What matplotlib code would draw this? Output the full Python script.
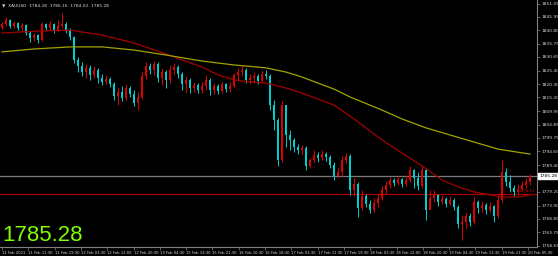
import numpy as np
import matplotlib
matplotlib.use('Agg')
import matplotlib.pyplot as plt
from matplotlib.patches import Rectangle
import matplotlib.transforms as mtransforms

# XAUUSD M30 candles
first_open = 1841.7
close = [1843.2, 1844.8, 1842.5, 1843.6, 1841.7, 1842.9, 1839.8, 1837.9, 1839.0, 1837.1,
         1843.2, 1841.7, 1843.2, 1840.6, 1842.5, 1843.2, 1840.9, 1838.3, 1829.5, 1827.2,
         1824.9, 1826.5, 1823.8, 1825.7, 1822.6, 1821.1, 1822.3, 1820.4, 1815.8, 1817.3,
         1815.0, 1818.8, 1816.5, 1813.1, 1815.4, 1823.4, 1827.2, 1825.7, 1828.0, 1822.6,
         1824.9, 1821.9, 1825.7, 1826.8, 1824.2, 1820.4, 1821.9, 1818.8, 1820.0, 1818.1,
         1819.6, 1821.9, 1818.1, 1819.6, 1817.7, 1820.4, 1818.4, 1819.6, 1823.8, 1824.9,
         1825.7, 1821.9, 1822.6, 1823.4, 1821.5, 1824.2, 1823.4, 1812.3, 1806.6, 1791.4,
         1812.3, 1800.9, 1799.0, 1796.3, 1795.2, 1795.9, 1789.1, 1791.4, 1793.3, 1792.1,
         1793.6, 1792.5, 1789.4, 1785.3, 1786.8, 1791.4, 1792.9, 1779.9, 1782.2, 1773.0,
         1777.6, 1774.6, 1772.3, 1774.9, 1776.9, 1779.9, 1781.8, 1783.7, 1782.6, 1784.1,
         1782.2, 1783.7, 1787.5, 1784.5, 1781.4, 1787.5, 1772.3, 1776.9, 1778.0, 1775.3,
         1776.5, 1774.6, 1776.1, 1773.4, 1766.9, 1767.7, 1770.0, 1767.7, 1775.3, 1773.0,
         1774.2, 1772.3, 1773.8, 1770.0, 1776.1, 1786.8, 1783.0, 1780.7, 1779.2, 1780.3,
         1781.8, 1783.0, 1785.28]
high = [1844.0, 1845.9, 1845.2, 1844.4, 1844.0, 1843.6, 1843.2, 1840.6, 1839.8, 1839.4,
        1844.0, 1843.6, 1844.4, 1843.6, 1844.8, 1847.4, 1844.0, 1841.7, 1838.7, 1830.6,
        1828.7, 1828.0, 1827.6, 1827.2, 1826.5, 1824.2, 1823.8, 1823.0, 1821.1, 1818.8,
        1819.6, 1820.4, 1819.6, 1818.1, 1817.3, 1824.9, 1828.7, 1828.4, 1829.1, 1828.7,
        1826.5, 1825.7, 1827.6, 1828.4, 1827.6, 1824.9, 1823.4, 1822.6, 1821.1, 1820.7,
        1821.1, 1823.8, 1822.6, 1820.7, 1820.4, 1821.1, 1820.7, 1821.1, 1824.5, 1826.5,
        1827.2, 1826.5, 1824.2, 1824.9, 1824.2, 1825.7, 1825.7, 1824.2, 1814.3, 1807.4,
        1813.9, 1810.4, 1802.8, 1799.8, 1797.5, 1797.1, 1796.7, 1792.1, 1795.2, 1794.4,
        1795.2, 1794.4, 1793.3, 1790.6, 1788.3, 1792.9, 1794.0, 1793.6, 1784.5, 1783.0,
        1779.9, 1778.4, 1776.1, 1776.9, 1778.4, 1781.4, 1783.3, 1784.9, 1784.5, 1785.3,
        1784.5, 1785.6, 1789.1, 1787.9, 1786.8, 1789.4, 1788.3, 1779.9, 1779.9, 1778.4,
        1778.0, 1777.2, 1777.6, 1776.9, 1774.2, 1770.4, 1771.5, 1771.1, 1777.2, 1776.1,
        1775.7, 1774.9, 1775.3, 1774.2, 1778.0, 1791.4, 1788.3, 1785.6, 1781.8, 1782.2,
        1783.3, 1784.5, 1786.0]
low = [1841.3, 1842.5, 1841.7, 1841.7, 1840.9, 1840.6, 1839.0, 1836.4, 1836.8, 1836.0,
       1836.8, 1840.9, 1840.9, 1839.8, 1840.2, 1841.7, 1839.8, 1837.1, 1828.4, 1824.9,
       1823.4, 1822.6, 1821.9, 1822.6, 1820.7, 1820.0, 1820.4, 1819.2, 1814.3, 1812.3,
       1813.9, 1814.3, 1815.4, 1812.0, 1810.4, 1814.6, 1822.3, 1824.2, 1823.8, 1821.1,
       1820.0, 1818.8, 1820.7, 1824.2, 1822.6, 1818.1, 1817.3, 1816.9, 1817.3, 1816.9,
       1816.9, 1818.1, 1816.2, 1816.5, 1816.5, 1816.9, 1817.3, 1817.3, 1818.8, 1821.9,
       1823.4, 1820.7, 1820.4, 1821.1, 1820.4, 1820.7, 1822.3, 1810.4, 1802.8, 1789.1,
       1790.6, 1796.3, 1795.2, 1794.4, 1793.6, 1793.3, 1787.5, 1788.3, 1790.2, 1790.6,
       1791.4, 1791.0, 1788.3, 1783.7, 1784.5, 1785.3, 1790.2, 1778.0, 1777.6, 1769.6,
       1772.3, 1773.4, 1771.1, 1771.5, 1773.4, 1776.1, 1778.4, 1780.7, 1781.4, 1781.8,
       1781.1, 1781.4, 1783.0, 1780.7, 1779.9, 1780.7, 1768.5, 1774.2, 1775.3, 1773.8,
       1774.6, 1773.4, 1774.2, 1772.3, 1765.4, 1760.8, 1765.4, 1766.2, 1766.9, 1771.1,
       1771.5, 1770.8, 1771.5, 1767.7, 1769.2, 1775.3, 1781.4, 1779.2, 1777.6, 1778.4,
       1779.5, 1780.7, 1781.8]

# moving averages (bar index, price)
ma_fast_idx = [0, 10, 17, 25, 33, 41, 50, 54, 58, 62, 66, 71, 75, 83, 87, 91, 95, 100,
               105, 110, 114, 118, 122, 126, 129, 132]
ma_fast = [1839.8, 1840.6, 1840.9, 1839.0, 1836.0, 1831.8, 1826.8, 1823.8, 1821.9, 1821.1,
           1820.7, 1818.8, 1816.9, 1812.3, 1808.1, 1803.6, 1799.0, 1794.0, 1789.1, 1783.7,
           1781.1, 1779.2, 1778.0, 1777.2, 1777.2, 1778.0]
ma_slow_idx = [0, 8, 17, 25, 33, 41, 50, 58, 66, 71, 75, 83, 87, 95, 100, 106, 112, 118,
               124, 132]
ma_slow = [1832.6, 1833.7, 1834.5, 1834.5, 1833.3, 1831.4, 1829.1, 1827.6, 1826.5, 1824.9,
           1823.0, 1818.4, 1815.4, 1810.4, 1807.0, 1803.6, 1800.9, 1798.2, 1795.5, 1793.6]

bid = 1785.28
level_line = 1778.52

price_ticks = [1758.65, 1763.75, 1768.85, 1773.90, 1779.20, 1784.30, 1789.40, 1794.65,
               1799.75, 1804.85, 1809.95, 1815.20, 1820.30, 1825.40, 1830.65, 1835.75,
               1840.80, 1845.95, 1851.05]
time_labels = ['11 Feb 2021', '11 Feb 11:30', '11 Feb 19:30', '12 Feb 03:30', '12 Feb 12:00',
               '12 Feb 20:30', '13 Feb 04:30', '15 Feb 13:30', '15 Feb 21:30', '16 Feb 10:30',
               '16 Feb 18:30', '17 Feb 03:30', '17 Feb 11:30', '17 Feb 19:30', '18 Feb 03:30',
               '18 Feb 12:00', '18 Feb 20:30', '19 Feb 04:30', '19 Feb 13:30', '19 Feb 21:30',
               '20 Feb 05:30']

BULL = '#e00000'
BEAR = '#00cfcf'
GRID = '#808080'
TXT = '#d8d8d8'

fig = plt.figure(figsize=(5.58, 2.59), dpi=100, facecolor='black')
ax = fig.add_axes([0.0, 12 / 259, 537 / 558, 247 / 259], facecolor='black')

c = np.array(close)
o = np.array([first_open] + close[:-1])
h = np.array(high)
l = np.array(low)
idx = np.arange(len(c))
cols = np.where(c >= o, BULL, BEAR)

ax.vlines(idx, l, h, colors=cols, linewidth=0.7, zorder=3)
body = np.maximum(np.abs(c - o), 0.25)
ax.bar(idx, body, bottom=np.minimum(o, c), width=0.5, color=cols, linewidth=0, zorder=3)

ax.plot(ma_fast_idx, ma_fast, color='#a30000', linewidth=0.9, zorder=4)
ax.plot(ma_slow_idx, ma_slow, color='#a3a300', linewidth=0.9, zorder=4)

ax.axhline(bid, color='#7a7a7a', linewidth=0.9, zorder=2)
ax.axhline(level_line, color='#a00000', linewidth=0.9, zorder=2)

ax.set_xlim(-0.5, 133.75)
ax.set_ylim(1758.15, 1852.39)

for s in ['left', 'top']:
    ax.spines[s].set_visible(False)
for s in ['right', 'bottom']:
    ax.spines[s].set_color(GRID)
    ax.spines[s].set_linewidth(0.8)

ax.yaxis.tick_right()
ax.set_yticks(price_ticks)
ax.set_yticklabels(['%.2f' % v for v in price_ticks])
ax.set_xticks(np.arange(len(time_labels)) * 6.575)
ax.set_xticklabels(time_labels, ha='left')
ax.tick_params(axis='y', direction='out', length=2, width=0.5, colors=GRID,
               labelsize=3.2, labelcolor=TXT, pad=1)
ax.tick_params(axis='x', direction='out', length=2, width=0.5, colors=GRID,
               labelsize=2.7, labelcolor=TXT, pad=1)

# current price box on the price scale
trans = mtransforms.blended_transform_factory(ax.transAxes, ax.transData)
ax.text(1.004, bid, '%.2f' % bid, transform=trans, fontsize=3.2, color='black',
        va='center', ha='left', clip_on=False, zorder=10,
        bbox=dict(boxstyle='square,pad=0.25', facecolor='white', edgecolor='white'))
ax.text(0.998, level_line + 0.4, '%.2f' % level_line, transform=trans, fontsize=3.0,
        color='#c00000', va='bottom', ha='right', zorder=10)

# header and big price label
ax.text(0.004, 0.985, '\u25bc  XAUUSD  1784.28  1786.16  1784.02  1785.28',
        transform=ax.transAxes, fontsize=3.2, color=TXT, va='top', ha='left')
fig.text(0.004, 0.05, '1785.28', fontsize=16, color='#7fff00', va='bottom', ha='left',
         family='Liberation Sans')

fig.patches.append(Rectangle((0, 0), 1, 3 / 259, transform=fig.transFigure,
                             facecolor='white', edgecolor='none'))

fig.savefig('out.png', dpi=100, facecolor='black')
